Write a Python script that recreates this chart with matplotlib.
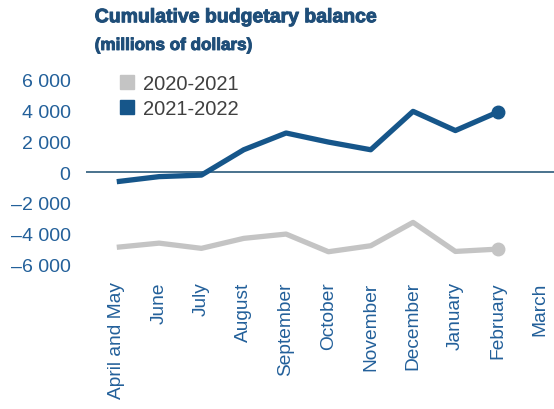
import matplotlib

matplotlib.use("Agg")

import matplotlib.pyplot as plt
import matplotlib.patheffects as pe
from matplotlib.lines import Line2D

plt.rcParams["font.family"] = ["Liberation Sans", "DejaVu Sans"]

MONTHS = [
    "April and May", "June", "July", "August", "September", "October",
    "November", "December", "January", "February", "March",
]
# cumulative balance, millions of dollars (March not yet available)
BAL_2021 = [-4900, -4630, -4970, -4320, -4040, -5190, -4800, -3280, -5170, -5020]
BAL_2022 = [-630, -300, -200, 1450, 2540, 1950, 1450, 3950, 2700, 3900]
YTICKS = [-6000, -4000, -2000, 0, 2000, 4000, 6000]

BLUE = "#16568a"
GREY = "#c4c4c4"
TICK_BLUE = "#23609a"
TITLE_BLUE = "#1f4e79"

fig = plt.figure(figsize=(5.54, 4.10), dpi=100)
ax = fig.add_axes([0.155, 0.342, 0.845, 0.472])

x = list(range(len(MONTHS)))
ax.plot(x[:len(BAL_2021)], BAL_2021, color=GREY, lw=3.8, solid_capstyle="butt", zorder=2)
ax.plot(x[len(BAL_2021) - 1], BAL_2021[-1], "o", color=GREY, ms=9, zorder=3)
ax.plot(x[:len(BAL_2022)], BAL_2022, color=BLUE, lw=3.8, solid_capstyle="butt", zorder=2)
ax.plot(x[len(BAL_2022) - 1], BAL_2022[-1], "o", color=BLUE, ms=9, zorder=3)
ax.axhline(0, color="#2b5a7a", lw=1.2, zorder=1)

ax.set_xlim(-0.73, 10.33)
ax.set_ylim(-6300, 6300)
ax.set_yticks(YTICKS)
ax.set_yticklabels([f"{v:,}".replace(",", " ").replace("-", "\u2013") for v in YTICKS],
                   color=TICK_BLUE, fontsize=14)
ax.set_xticks(x)
ax.set_xticklabels(MONTHS, rotation=90, va="top", ha="center", color=TICK_BLUE, fontsize=13.8)
ax.tick_params(axis="both", length=0)
ax.tick_params(axis="x", pad=9)
ax.tick_params(axis="y", pad=11)
for spine in ax.spines.values():
    spine.set_visible(False)

heavy = [pe.withStroke(linewidth=0.7, foreground=TITLE_BLUE)]
fig.text(0.171, 0.975, "Cumulative budgetary balance", fontsize=14, fontweight="bold",
         color=TITLE_BLUE, va="top", ha="left", path_effects=heavy)
fig.text(0.171, 0.905, "(millions of dollars)", fontsize=12.3, fontweight="bold",
         color=TITLE_BLUE, va="top", ha="left", path_effects=heavy)

handles = [
    Line2D([], [], marker="s", ls="none", color=GREY, ms=10),
    Line2D([], [], marker="s", ls="none", color=BLUE, ms=10),
]
fig.legend(handles, ["2020-2021", "2021-2022"], loc="upper left",
           bbox_to_anchor=(0.19, 0.852), frameon=False, fontsize=14.5,
           labelcolor="#404040", handlelength=0.8, handletextpad=0.35,
           labelspacing=0.3, borderpad=0.2)

fig.savefig("out.png", dpi=100)
